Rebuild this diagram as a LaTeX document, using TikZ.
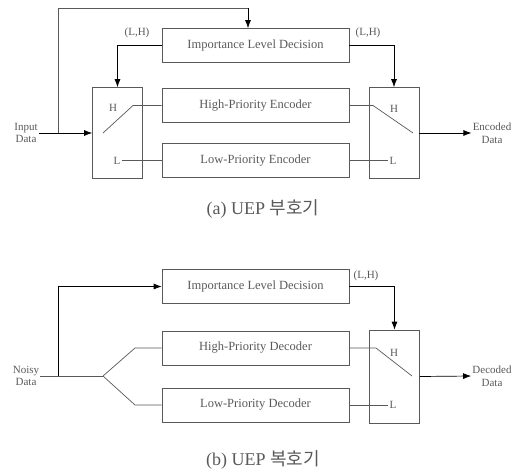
\documentclass[tikz,border=0pt]{standalone}
\usepackage{fontspec}
\setmainfont{Liberation Serif}
\newfontfamily\krfont{Noto Sans CJK KR}
\usetikzlibrary{arrows.meta}
\begin{document}
\begin{tikzpicture}[x=1pt, y=-1pt, font=\fontsize{12.5}{14}\selectfont,
                block/.style = {draw, minimum width=187pt, minimum height=34pt, inner sep=0pt},
                switch/.style = {draw, minimum width=50pt, minimum height=91pt, inner sep=0pt},
                lbl/.style = {inner sep=1pt, font=\fontsize{11}{12.5}\selectfont, align=center},
                arr/.style = {-{Latex[length=8pt,width=6pt]}, color=black},
                every path/.style = {color=black!65, line width=0.7pt}]
                \useasboundingbox (0,0) rectangle (526,471);
                % (a) encoder
                \node[block] (impA) at (255.5,45.5) {Importance Level Decision};
                \node[block] (hpe) at (255.5,105.5) {High-Priority Encoder};
                \node[block] (lpe) at (255.5,160.5) {Low-Priority Encoder};
                \node[switch] (swAL) at (117.5,133) {};
                \node[switch] (swAR) at (394,133) {};
                \node[lbl] (inA) at (26,133) {Input\\Data};
                \node[lbl] (outA) at (492,133) {Encoded\\Data};
                \node[lbl] (lhAL) at (137,33) {(L,H)};
                \node[lbl] (lhAR) at (368,33) {(L,H)};
                \node[lbl] (hAL) at (113,108) {H};
                \node[lbl] (lAL) at (117,160.5) {L};
                \node[lbl] (hAR) at (394,109) {H};
                \node[lbl] (lAR) at (393,160.5) {L};
                \coordinate (tapA) at (58,133);
                \coordinate (topAL) at (58,8);
                \coordinate (topAR) at (248,8);
                \coordinate (pivAL) at (103,133);
                \coordinate (tipAL) at (133,105.5);
                \coordinate (tipAR) at (373,105.5);
                \coordinate (pivAR) at (413,133);
                \draw[arr] (inA.east) -- (swAL.west);
                \draw (tapA) -- (topAL) -- (topAR);
                \draw[arr] (topAR) -- (topAR |- impA.north);
                \draw[arr] (impA.west) -| (swAL.north);
                \draw[arr] (impA.east) -| (swAR.north);
                \draw (pivAL) -- (tipAL) -- (swAL.east |- tipAL) -- (hpe.west);
                \draw (lAL.east) -- (lpe.west);
                \draw (hpe.east) -- (tipAR) -- (pivAR);
                \draw (lpe.east) -- (lAR.west);
                \draw[arr] (swAR.east) -- (outA.west);
                \node[font=\fontsize{18}{21}\selectfont] (capA) at (263,209) {(a) UEP {\krfont 부호기}};
                % (b) decoder
                \node[block] (impB) at (255.5,286.5) {Importance Level Decision};
                \node[block] (hpd) at (255.5,348) {High-Priority Decoder};
                \node[block] (lpd) at (255.5,405) {Low-Priority Decoder};
                \node[switch, minimum height=93pt] (swB) at (394.5,376.5) {};
                \node[lbl] (inB) at (26,376) {Noisy\\Data};
                \node[lbl] (outB) at (492,376) {Decoded\\Data};
                \node[lbl] (lhB) at (366,276) {(L,H)};
                \node[lbl] (hB) at (394,353) {H};
                \node[lbl] (lB) at (393,405) {L};
                \coordinate (tapB) at (58,376);
                \coordinate (fork) at (103,376);
                \coordinate (forkH) at (135,348);
                \coordinate (forkL) at (135,405);
                \coordinate (tipB) at (376,348);
                \coordinate (pivB) at (412,376);
                \draw (inB.east) -- (fork);
                \draw[arr] (tapB) |- (impB.west);
                \draw (fork) -- (forkH) -- (hpd.west);
                \draw (fork) -- (forkL) -- (lpd.west);
                \draw[arr] (impB.east) -| (swB.north);
                \draw (hpd.east) -- (tipB) -- (pivB);
                \draw (lpd.east) -- (lB.west);
                \draw[arr] (swB.east) -- (outB.west);
                \node[font=\fontsize{18}{21}\selectfont] (capB) at (263,460) {(b) UEP {\krfont 복호기}};
\end{tikzpicture}
\end{document}
